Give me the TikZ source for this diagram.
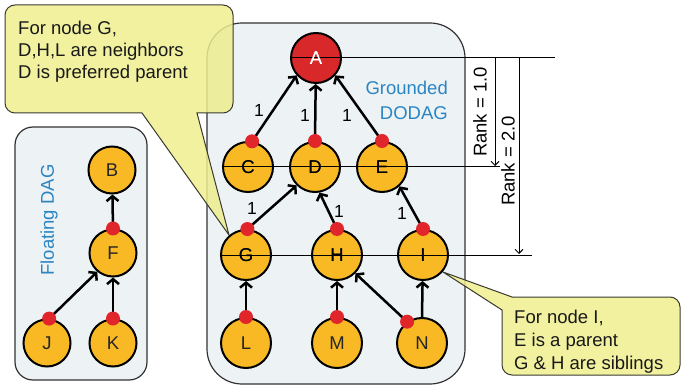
\documentclass[tikz,border=0pt]{standalone}
\usepackage{fontspec}
\setmainfont{Liberation Sans}
\usetikzlibrary{arrows.meta}
\definecolor{boxfill}{HTML}{EDF2F5}
\definecolor{boxline}{HTML}{333333}
\definecolor{nodeor}{HTML}{F8B925}
\definecolor{nodered}{HTML}{D9282A}
\definecolor{dotred}{HTML}{E0262A}
\definecolor{callfill}{HTML}{EEEE8E}
\definecolor{callline}{HTML}{3A3A30}
\definecolor{labblue}{HTML}{2A85C2}
\begin{document}
\begin{tikzpicture}[x=1pt,y=-1pt,
  font=\fontsize{18.5}{22}\selectfont,
  box/.style={draw=boxline,line width=1.2pt,fill=boxfill},
  nd/.style={circle,draw=black,line width=2pt,fill=nodeor,minimum size=50pt,inner sep=0pt,text=black!85},
  snd/.style={nd,minimum size=47pt},
  root/.style={nd,fill=nodered,text=white},
  dot/.style={circle,fill=dotred,minimum size=14pt,inner sep=0pt},
  edge/.style={line width=2.5pt,-{Straight Barb[length=5pt,width=12pt]}},
  rankline/.style={line width=1pt},
  dimarrow/.style={line width=0.9pt,-{Straight Barb[length=4pt,width=8pt]}},
  wlbl/.style={font=\fontsize{17.5}{20}\selectfont},
  call/.style={draw=callline,line width=1pt,fill=callfill,fill opacity=0.85},
  calltext/.style={align=left,anchor=north west,inner sep=0pt,text=black!90}
]
\useasboundingbox (0,0) rectangle (682,387);
% group boxes
\draw[box,rounded corners=18pt] (15,127) rectangle (147,380);
\draw[box,rounded corners=35pt] (207,23) rectangle (465,384);

% callout 1
\draw[call] (229,235) -- (142,113) -- (15,113)
  .. controls (9.5,113) and (5,108.5) .. (5,103) -- (5,15)
  .. controls (5,9.5) and (9.5,5) .. (15,5) -- (223,5)
  .. controls (228.5,5) and (233,9.5) .. (233,15) -- (233,103)
  .. controls (233,108.5) and (228.5,113) .. (223,113) -- (197,113) -- cycle;
% callout 2
\draw[call] (443,272) -- (512,297) -- (670,297)
  .. controls (675.5,297) and (680,301.5) .. (680,307) -- (680,365)
  .. controls (680,370.5) and (675.5,375) .. (670,375) -- (512,375)
  .. controls (506.5,375) and (502,370.5) .. (502,365) -- (502,310) -- cycle;

\node[calltext] (t1) at (18,21) {For node G,\\D,H,L are neighbors\\D is preferred parent};
\node[calltext,font=\fontsize{18.5}{23}\selectfont] (t2) at (514,310) {For node I,\\E is a parent\\G \& H are siblings};

% group titles
\node[rotate=90,text=labblue] (tf) at (49,220) {Floating DAG};
\node[align=right,anchor=north east,inner sep=0pt,text=labblue,font=\fontsize{18.5}{25}\selectfont] (tg) at (448,81) {Grounded\\DODAG};

% nodes of the grounded DODAG
\node[root] (A) at (316,58) {A};
\node[nd] (C) at (248,167) {C};
\node[nd] (D) at (315,167) {D};
\node[nd] (E) at (382,167) {E};
\node[nd] (G) at (246,255) {G};
\node[nd] (H) at (337,255) {H};
\node[nd] (I) at (423,255) {I};
\node[nd] (L) at (246,343) {L};
\node[nd] (M) at (337,343) {M};
\node[nd] (N) at (422,343) {N};
% nodes of the floating DAG
\node[snd] (B) at (112,170) {B};
\node[snd] (F) at (113,253) {F};
\node[snd] (J) at (47,343) {J};
\node[snd] (K) at (113,343) {K};

% rank lines
\coordinate (r0) at (555,58);
\coordinate (r1) at (500,167);
\coordinate (r2) at (532,255);
\draw[rankline] (A.west) -- (r0);
\draw[rankline] (C.west) -- (r1);
\draw[rankline] (G.west) -- (r2);
\coordinate (d1t) at (495,58);
\coordinate (d1b) at (495,166);
\coordinate (d2t) at (519,58);
\coordinate (d2b) at (519,254);
\draw[dimarrow] (d1t) -- (d1b);
\draw[dimarrow] (d2t) -- (d2b);
\node[rotate=90] (rk1) at (480,112) {Rank = 1.0};
\node[rotate=90] (rk2) at (508,161) {Rank = 2.0};

% re-draw node letters above the rank lines
\node[text=white] (Al) at (A.center) {A};
\node (Cl) at (C.center) {C};
\node (Dl) at (D.center) {D};
\node (El) at (E.center) {E};
\node (Gl) at (G.center) {G};
\node (Hl) at (H.center) {H};
\node (Il) at (I.center) {I};

% edges
\coordinate (pC) at (C.81);
\coordinate (pD) at (D.90);
\coordinate (pE) at (E.90);
\coordinate (pG) at (G.87);
\coordinate (pH) at (H.90);
\coordinate (pI) at (I.90);
\coordinate (pL) at (L.90);
\coordinate (pM) at (M.90);
\coordinate (pN) at (N.125);
\coordinate (qN) at (N.90);
\coordinate (pF) at (F.90);
\coordinate (pJ) at (J.85);
\coordinate (pK) at (K.90);
\draw[edge] (pC) -- (A.222);
\draw[edge] (pD) -- (A);
\draw[edge] (pE) -- (A.-42);
\draw[edge] (pG) -- (D.225);
\draw[edge] (pH) -- (D.-80);
\draw[edge] (pI) -- (E.-48);
\draw[edge] (pL) -- (G);
\draw[edge] (pM) -- (H);
\draw[edge] (pN) -- (H.-45);
\draw[edge] (qN) -- (I);
\draw[edge] (pF) -- (B);
\draw[edge] (pJ) -- (F.230);
\draw[edge] (pK) -- (F);

% red dots (preferred parent)
\foreach \p in {pC,pD,pE,pG,pH,pI,pL,pM,pN,pF,pJ,pK}
  \node[dot] (dot\p) at (\p) {};

% rank labels on links
\node[wlbl] (w1) at (259,110) {1};
\node[wlbl] (w2) at (305,115) {1};
\node[wlbl] (w3) at (347,115) {1};
\node[wlbl] (w4) at (252,208) {1};
\node[wlbl] (w5) at (339,211) {1};
\node[wlbl] (w6) at (402,213) {1};
\end{tikzpicture}
\end{document}
